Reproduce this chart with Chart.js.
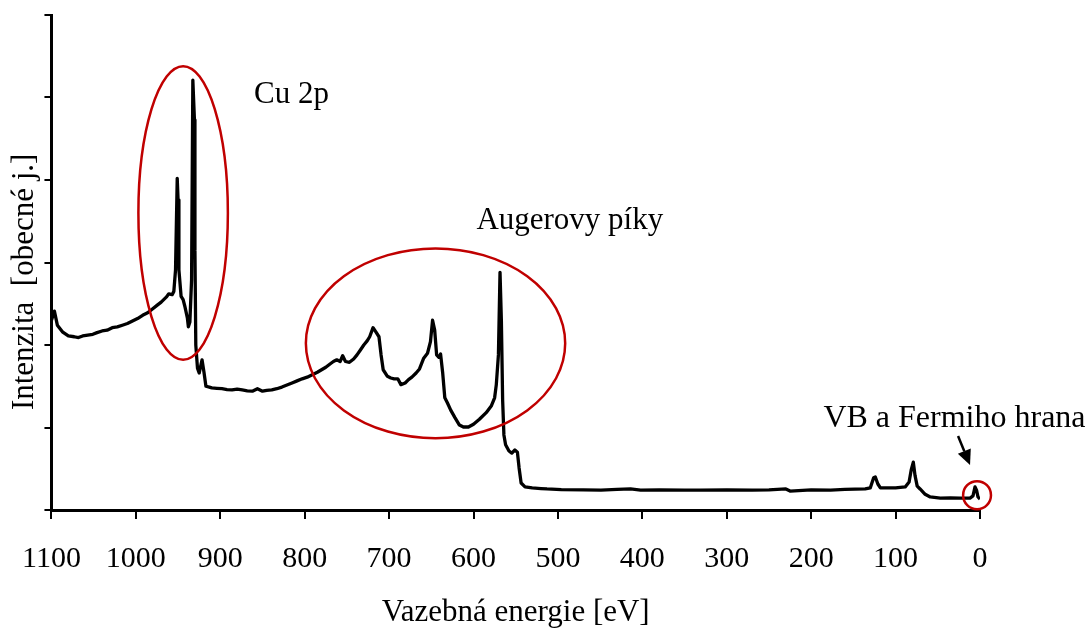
<!DOCTYPE html>
<html><head><meta charset="utf-8">
<script src="https://cdn.jsdelivr.net/npm/chart.js@4/dist/chart.umd.min.js"></script>
<style>html,body{margin:0;padding:0;background:#fff;overflow:hidden}</style>
</head><body>
<canvas id="c" width="1088" height="630"></canvas>
<script>
// Binding energy [eV] and intensity [arb. units]
const energies = [1100,1096.5,1093,1087,1080,1073,1068,1063,1057,1051,1046,1040,1034,1028,1022,1016,1010,1004,998,992,986,980,975,970,964,961,957,955,953,951,950,949,946.4,944,942,939,937.8,936,934,932.5,930.6,930,929,927,925,921.6,919.3,917,913,910,904,898,892,886,880,874,868,862,856,850,845,839,833,827,821,815,809,803,797,791,785,780,775,770,766,762,758,755,751.7,747,742,738,734,730,726,723,719,715.7,712,709.5,707,702,698,694,689.7,686,681,677,673,668,664,659,654.5,651,648.5,646,643.7,641,639,636.6,634,631,627,622,616.7,612,606,600,593,585,579,575,573,570.5,568.6,567,565.5,564,562,558,554.6,551,548,546,543.6,539,530.5,520,513,496,470,449,430,414,402,380,350,331,300,270,250,230,225,200,177,160,136,130,126,124,121,118,100,88.6,84,81.5,79,77,74.4,71,65,59,47,35,23.6,11.8,8.3,5.9,4.1,2.4,0];
const intensities = [2.30,2.41,2.24,2.16,2.11,2.10,2.09,2.11,2.12,2.13,2.15,2.17,2.18,2.21,2.22,2.24,2.26,2.29,2.32,2.36,2.39,2.44,2.48,2.52,2.58,2.62,2.61,2.65,2.91,4.02,3.76,2.91,2.59,2.55,2.47,2.33,2.22,2.28,2.79,5.21,4.73,3.15,2.00,1.72,1.66,1.82,1.67,1.50,1.49,1.48,1.475,1.47,1.46,1.455,1.465,1.455,1.445,1.44,1.47,1.44,1.45,1.455,1.47,1.49,1.515,1.54,1.565,1.59,1.61,1.64,1.67,1.70,1.73,1.77,1.80,1.82,1.80,1.87,1.80,1.79,1.83,1.88,1.94,2.00,2.05,2.10,2.21,2.16,2.10,1.88,1.70,1.62,1.60,1.59,1.59,1.52,1.54,1.58,1.61,1.66,1.71,1.84,1.90,2.04,2.30,2.18,1.88,1.85,1.89,1.67,1.36,1.30,1.21,1.12,1.03,1.006,1.006,1.04,1.10,1.18,1.26,1.36,1.52,1.88,2.88,2.30,1.33,0.91,0.79,0.715,0.69,0.727,0.70,0.51,0.327,0.28,0.267,0.26,0.255,0.248,0.245,0.242,0.25,0.255,0.242,0.245,0.24,0.242,0.245,0.24,0.243,0.255,0.23,0.245,0.242,0.25,0.255,0.267,0.39,0.40,0.315,0.267,0.267,0.28,0.34,0.485,0.58,0.42,0.29,0.255,0.19,0.158,0.145,0.148,0.145,0.145,0.17,0.28,0.24,0.158,0.133];
const xTickValues = [1100,1000,900,800,700,600,500,400,300,200,100,0];
const xTitle = 'Vazebná energie [eV]';
const yTitle = 'Intenzita  [obecné j.]';
const labelTexts = ['Cu 2p', 'Augerovy píky', 'VB a Fermiho hrana'];
const labelAnchors = [[860, 4.93], [596.6, 3.406], [185.5, 1.006]]; // [eV, intensity] of text start (baseline)
const ellipses = [[944, 3.6, 53, 1.78], [645, 2.02, 153.6, 1.15], [3.5, 0.18, 16.5, 0.17]]; // centre eV, centre I, half-width eV, half-height I
const arrow = [[26, 0.897], [11.8, 0.545]];

const points = energies.map((e, i) => ({x: e, y: intensities[i]}));
const FONT = '"Liberation Serif", "Times New Roman", serif';

const annotPlugin = {
  id: 'annot',
  afterDatasetsDraw(chart) {
    const ctx = chart.ctx, xs = chart.scales.x, ys = chart.scales.y;
    ctx.save();
    ctx.strokeStyle = '#c00000';
    ctx.lineWidth = 2.5;
    ellipses.forEach(([ex, ey, rx, ry]) => {
      const cx = xs.getPixelForValue(ex), cy = ys.getPixelForValue(ey);
      const prx = Math.abs(xs.getPixelForValue(ex + rx) - cx);
      const pry = Math.abs(ys.getPixelForValue(ey + ry) - cy);
      ctx.beginPath();
      ctx.ellipse(cx, cy, prx, pry, 0, 0, Math.PI * 2);
      ctx.stroke();
    });
    // arrow
    const x1 = xs.getPixelForValue(arrow[0][0]), y1 = ys.getPixelForValue(arrow[0][1]);
    const x2 = xs.getPixelForValue(arrow[1][0]), y2 = ys.getPixelForValue(arrow[1][1]);
    const ang = Math.atan2(y2 - y1, x2 - x1);
    const hl = 15, hw = 7;
    const bx = x2 - hl * Math.cos(ang), by = y2 - hl * Math.sin(ang);
    ctx.strokeStyle = '#000'; ctx.fillStyle = '#000'; ctx.lineWidth = 2.5;
    ctx.beginPath(); ctx.moveTo(x1, y1); ctx.lineTo(bx, by); ctx.stroke();
    ctx.beginPath();
    ctx.moveTo(x2, y2);
    ctx.lineTo(bx + hw * Math.sin(ang), by - hw * Math.cos(ang));
    ctx.lineTo(bx - hw * Math.sin(ang), by + hw * Math.cos(ang));
    ctx.closePath(); ctx.fill();
    // texts
    ctx.fillStyle = '#000';
    ctx.textAlign = 'left';
    ctx.textBaseline = 'alphabetic';
    labelTexts.forEach((t, i) => {
      ctx.font = (i === 2 ? '32px ' : '31px ') + FONT;
      ctx.fillText(t, xs.getPixelForValue(labelAnchors[i][0]), ys.getPixelForValue(labelAnchors[i][1]));
    });
    ctx.restore();
  }
};

new Chart(document.getElementById('c'), {
  type: 'line',
  data: {
    datasets: [{
      data: points,
      borderColor: '#000',
      borderWidth: 3.3,
      pointRadius: 0,
      tension: 0,
      fill: false,
      borderJoinStyle: 'round'
    }]
  },
  options: {
    responsive: false,
    animation: false,
    devicePixelRatio: 1,
    layout: {padding: {top: 15, right: 108, bottom: 0, left: 0}},
    plugins: {legend: {display: false}, tooltip: {enabled: false}},
    scales: {
      x: {
        type: 'linear',
        reverse: true,
        min: 0, max: 1100,
        afterBuildTicks: (s) => { s.ticks = xTickValues.map(v => ({value: v})); },
        afterFit: (s) => { s.height = 120; },
        ticks: {
          callback: (v) => String(v),
          color: '#000',
          font: {family: FONT, size: 30},
          padding: 22,
          maxRotation: 0,
          autoSkip: false
        },
        grid: {drawOnChartArea: false, drawTicks: true, tickLength: 9, color: '#000', lineWidth: 2},
        border: {display: true, color: '#000', width: 3},
        title: {display: true, text: xTitle, color: '#000', font: {family: FONT, size: 31, lineHeight: 1.1}, padding: {top: 0, bottom: 0}}
      },
      y: {
        type: 'linear',
        min: 0, max: 6,
        afterFit: (s) => { s.width = 49; },
        ticks: {display: false, stepSize: 1},
        grid: {drawOnChartArea: false, drawTicks: true, tickLength: 7, color: '#000', lineWidth: 2},
        border: {display: true, color: '#000', width: 3},
        title: {display: true, text: yTitle + '     ', color: '#000', font: {family: FONT, size: 31}, padding: {top: 4, bottom: 0}}
      }
    }
  },
  plugins: [annotPlugin]
});
</script>
</body></html>
